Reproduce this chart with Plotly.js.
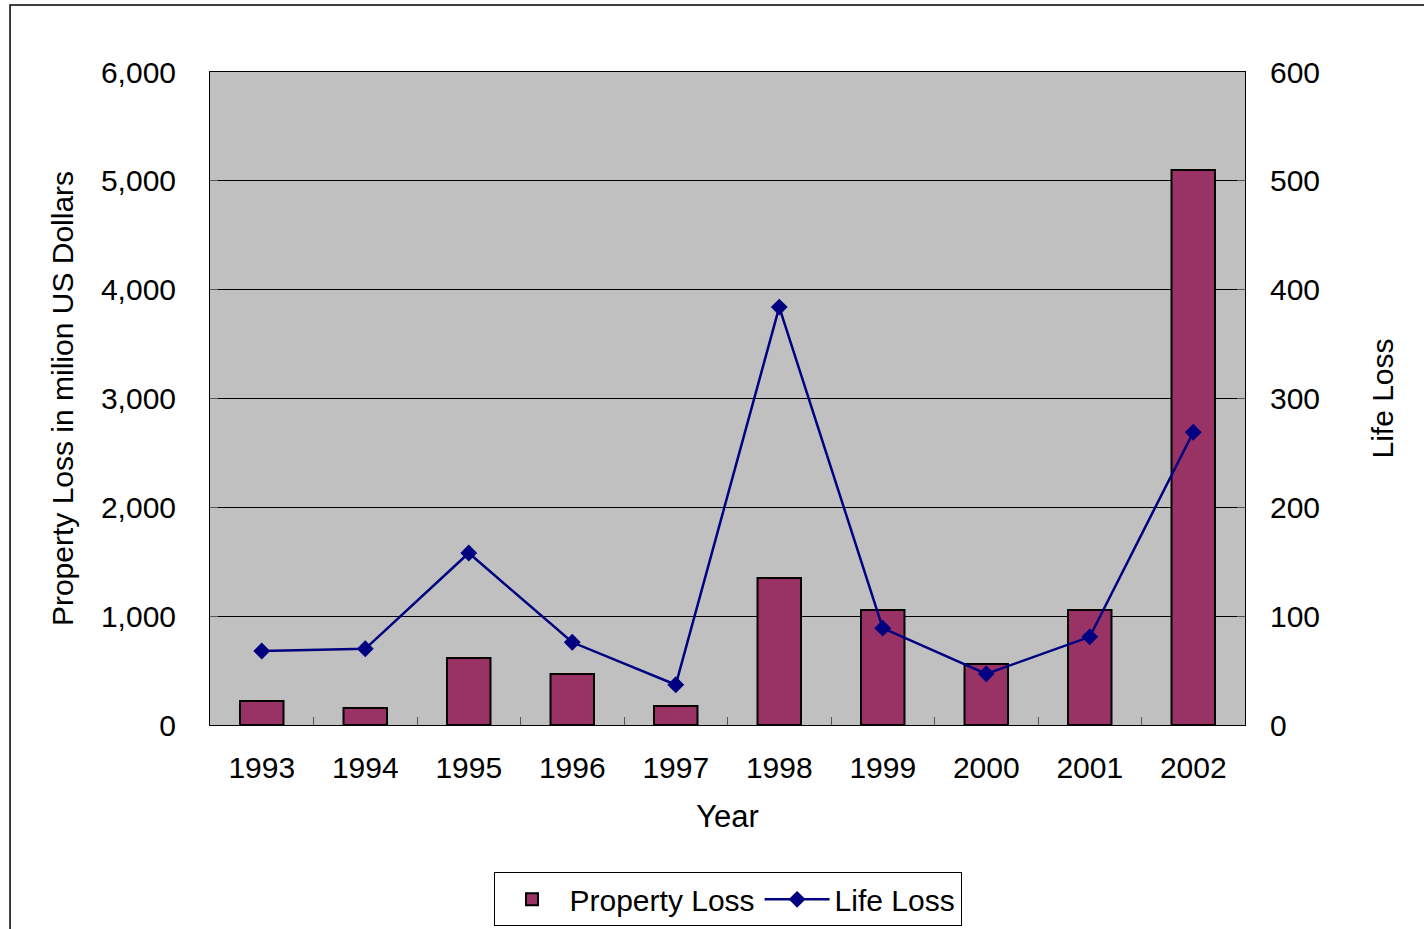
<!DOCTYPE html>
<html><head><meta charset="utf-8">
<script src="https://cdn.plot.ly/plotly-3.0.1.min.js"></script>
<style>html,body{margin:0;padding:0;background:#fff}#c{width:1424px;height:929px}</style>
</head><body><div id="c"></div>
<script>
const years = ['1993','1994','1995','1996','1997','1998','1999','2000','2001','2002'];
const propertyLoss = [220, 156, 616, 469, 175, 1351, 1057, 560, 1057, 5100];
const lifeLoss = [68, 70, 158, 76, 37, 384, 89, 47, 81, 269];

const F = 'Liberation Sans, Arial, sans-serif';
const traces = [
  {type:'bar', name:'Property Loss', x:years, y:propertyLoss, width:0.42,
   marker:{color:'#993366', line:{color:'#000', width:2}}},
  {type:'scatter', mode:'lines+markers', name:'Life Loss', x:years, y:lifeLoss, yaxis:'y2',
   line:{color:'#000080', width:2.5}, marker:{symbol:'diamond', size:13, color:'#000080'}}
];
const layout = {
  width:1424, height:929, margin:{l:210, r:179, t:72, b:204, autoexpand:false},
  paper_bgcolor:'#fff', plot_bgcolor:'#C0C0C0', showlegend:true,
  font:{family:F, size:30, color:'#000'},
  xaxis:{type:'category', range:[-0.5, 9.5], tickson:'boundaries', ticks:'inside', ticklen:8, tickcolor:'#555',
    showline:true, linecolor:'#000', linewidth:1, mirror:true, showgrid:false,
    tickfont:{size:30}, ticklabelstandoff:16, title:{text:'Year', font:{size:31}, standoff:22}},
  yaxis:{range:[0,6000], dtick:1000, tickformat:',', ticks:'inside', ticklen:8, tickcolor:'#555',
    showline:true, linecolor:'#000', linewidth:1, gridcolor:'#000', gridwidth:1, zeroline:false,
    tickfont:{size:30}, ticklabelstandoff:27,
    title:{text:'Property Loss in milion US Dollars', font:{size:30}, standoff:18}},
  yaxis2:{range:[0,600], dtick:100, overlaying:'y', side:'right', ticks:'inside', ticklen:8, tickcolor:'#555',
    showline:true, linecolor:'#000', linewidth:1, showgrid:false, zeroline:false,
    tickfont:{size:30}, ticklabelstandoff:18,
    title:{text:'Life Loss', font:{size:30}, standoff:52}},
  legend:{orientation:'h', x:0.5, xanchor:'center', yref:'container', y:0.061, yanchor:'top',
    bordercolor:'#000', borderwidth:1, bgcolor:'#fff', font:{size:30}, itemwidth:65},
  shapes:[{type:'rect', xref:'paper', yref:'paper', x0:-0.1932, x1:1.2, y0:-0.4, y1:1.1026,
    line:{color:'#000', width:1.5}, fillcolor:'rgba(0,0,0,0)', layer:'below'}]
};
Plotly.newPlot('c', traces, layout, {displayModeBar:false, staticPlot:true});
</script></body></html>
